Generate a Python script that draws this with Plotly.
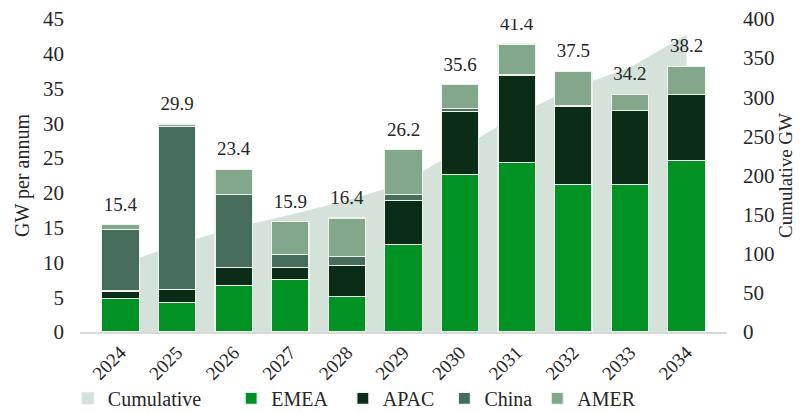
import plotly.graph_objects as go

years = ["2024", "2025", "2026", "2027", "2028", "2029", "2030", "2031", "2032", "2033", "2034"]
emea = [4.8, 4.2, 6.7, 7.5, 5.1, 12.6, 22.6, 24.4, 21.2, 21.2, 24.6]
apac = [1.1, 1.9, 2.6, 1.8, 4.5, 6.3, 9.1, 12.5, 11.3, 10.6, 9.6]
china = [8.8, 23.4, 10.5, 1.9, 1.2, 0.9, 0.4, 0.1, 0.0, 0.0, 0.0]
amer = [0.7, 0.4, 3.6, 4.7, 5.6, 6.4, 3.5, 4.4, 5.0, 2.4, 4.0]
totals = [15.4, 29.9, 23.4, 15.9, 16.4, 26.2, 35.6, 41.4, 37.5, 34.2, 38.2]
cumulative = [86, 112, 133, 150, 168, 190, 234, 277, 312, 338, 380]

FONT = "Liberation Serif"
TXT = "#262626"
AREA = "#d4e2d9"
NB = "\u00a0"
fig = go.Figure()

fig.add_trace(go.Scatter(
    x=years, y=cumulative, name="Cumulative", mode="none",
    fill="tozeroy", fillcolor=AREA, showlegend=False,
    yaxis="y", hoverinfo="skip",
))
# legend swatch for the cumulative area
fig.add_trace(go.Bar(x=[years[0]], y=[None], name="Cumulative" + NB * 5,
                     marker=dict(color=AREA), yaxis="y2", hoverinfo="skip"))

for name, vals, col, pad in [("EMEA", emea, "#009222", 2), ("APAC", apac, "#0b2c16", 1),
                             ("China", china, "#466c5b", 0), ("AMER", amer, "#83a78b", 0)]:
    fig.add_trace(go.Bar(
        x=years, y=vals, name=name + NB * pad,
        marker=dict(color=col, line=dict(color="#eef3ef", width=1.2)),
        yaxis="y2",
    ))

fig.add_trace(go.Scatter(
    x=years, y=totals, mode="markers+text", text=[f"{t:.1f}" for t in totals],
    marker=dict(size=13, opacity=0),
    textposition="top center", textfont=dict(family=FONT, size=19, color=TXT),
    yaxis="y2", showlegend=False, hoverinfo="skip",
))

fig.update_layout(
    width=809, height=413,
    margin=dict(l=72, r=90, t=11, b=89, autoexpand=False),
    paper_bgcolor="white", plot_bgcolor="white",
    barmode="stack", bargap=0.34,
    font=dict(family=FONT, size=20, color=TXT),
    showlegend=True,
    legend=dict(orientation="h", xref="container", x=0.074, xanchor="left",
                yref="container", y=0.055, yanchor="middle",
                font=dict(family=FONT, size=20, color=TXT), traceorder="normal",
                itemwidth=30, bgcolor="rgba(0,0,0,0)"),
    xaxis=dict(type="category", tickangle=-45, showline=True, linecolor="#d9d9d9", linewidth=2,
               ticks="", showgrid=False, tickfont=dict(family=FONT, size=19), automargin=False),
    yaxis=dict(range=[0, 400], side="right", dtick=50, showgrid=False, zeroline=False,
               title=dict(text="Cumulative GW", font=dict(size=19), standoff=4),
               tickfont=dict(family=FONT, size=21), automargin=False,
               ticklabelstandoff=15, ticklabeloverflow="allow"),
    yaxis2=dict(range=[0, 45], side="left", overlaying="y", dtick=5, showgrid=False, zeroline=False,
                title=dict(text="GW per annum", font=dict(size=20), standoff=8),
                tickfont=dict(family=FONT, size=21), automargin=False,
                ticklabelstandoff=15, ticklabeloverflow="allow"),
)

fig.write_html("out.html")
